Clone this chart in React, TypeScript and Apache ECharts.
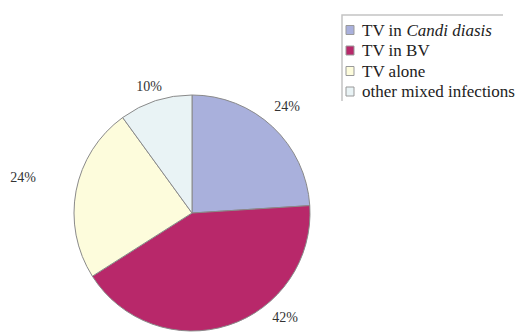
import React, { useEffect, useRef } from "react";
import * as echarts from "echarts";

const categories = ["TV in Candi diasis", "TV in BV", "TV alone", "other mixed infections"];
const values = [24, 42, 24, 10];
const colors = ["#a9b0dc", "#b8286a", "#fdfcdc", "#e9f3f5"];
const labelSpots: [number, number][] = [[287, 106], [285, 317], [23, 177], [149, 86]];
const SERIF = "Liberation Serif";

export default function App() {
  const ref = useRef<HTMLDivElement>(null);
  useEffect(() => {
    const chart = echarts.init(ref.current!, null, { renderer: "svg" });
    const legendItems: any[] = [];
    categories.forEach((name, i) => {
      const cy = 30 + i * 20.5;
      legendItems.push({
        type: "rect",
        shape: { x: 346, y: cy - 4.5, width: 8, height: 9 },
        style: { fill: colors[i], stroke: "#999", lineWidth: 1 },
        silent: true,
      });
      legendItems.push({
        type: "text",
        x: 362,
        y: cy,
        style: {
          text: name === "TV in Candi diasis" ? "{n|TV in }{i|Candi diasis}" : "{n|" + name + "}",
          verticalAlign: "middle",
          align: "left",
          rich: {
            n: { fontFamily: SERIF, fontSize: 17, fill: "#222" },
            i: { fontFamily: SERIF, fontSize: 17, fontStyle: "italic", fill: "#222" },
          },
        },
        silent: true,
      });
    });
    chart.setOption({
      animation: false,
      backgroundColor: "#ffffff",
      color: colors,
      textStyle: { fontFamily: SERIF },
      graphic: [
        {
          type: "polyline",
          shape: { points: [[342, 101], [342, 15], [503, 15]] },
          style: { stroke: "#c4c4c4", lineWidth: 1.5, fill: null },
          silent: true,
        },
        ...legendItems,
      ],
      series: [
        {
          type: "pie",
          center: [192, 213],
          radius: 118,
          startAngle: 90,
          clockwise: true,
          itemStyle: { borderColor: "#8a8a8a", borderWidth: 1 },
          label: {
            show: true,
            position: "outside",
            formatter: "{c}%",
            fontFamily: SERIF,
            fontSize: 14,
            color: "#333",
            overflow: "none",
          },
          labelLine: { show: false },
          labelLayout: (params: any) => {
            const p = labelSpots[params.dataIndex];
            return { x: p[0], y: p[1], align: "center", verticalAlign: "middle" };
          },
          emphasis: { disabled: true },
          data: categories.map((c, i) => ({ name: c, value: values[i] })),
        },
      ],
    });
    return () => chart.dispose();
  }, []);
  return <div ref={ref} style={{ width: 521, height: 333, position: "absolute", left: 0, top: 0 }} />;
}
